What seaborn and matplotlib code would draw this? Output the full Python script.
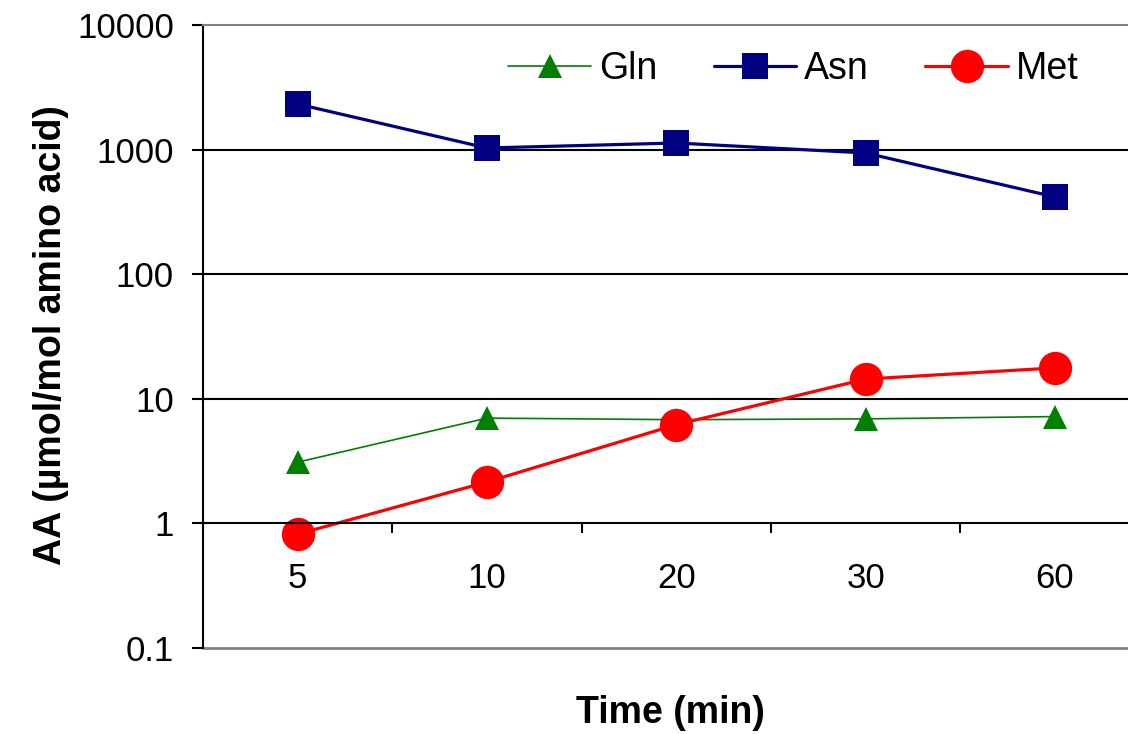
import pandas as pd
import numpy as np
import matplotlib.pyplot as plt
import seaborn as sns
from matplotlib.ticker import FixedLocator, NullFormatter

sns.set_style("white")
plt.rcParams["font.family"] = ["Liberation Sans", "DejaVu Sans"]
plt.rcParams["text.color"] = "black"
plt.rcParams["axes.labelcolor"] = "black"
plt.rcParams["xtick.color"] = "black"
plt.rcParams["ytick.color"] = "black"

times = ["5", "10", "20", "30", "60"]
gln = [3.1, 7.0, 6.8, 6.9, 7.2]
asn = [2320, 1030, 1130, 940, 417]
met = [0.82, 2.15, 6.2, 14.4, 17.7]

df = pd.DataFrame({"Time": times, "Gln": gln, "Asn": asn, "Met": met})

fig = plt.figure(figsize=(11.28, 7.34), dpi=100)
ax = fig.add_axes([203 / 1128, 1 - 648 / 734, 946.5 / 1128, 623 / 734])

sns.lineplot(data=df, x="Time", y="Gln", ax=ax, color="#008000", marker="^",
             markersize=17, linewidth=1.2, markeredgewidth=0, label="Gln", sort=False)
sns.lineplot(data=df, x="Time", y="Asn", ax=ax, color="#000080", marker="s",
             markersize=19, linewidth=2.3, markeredgewidth=0, label="Asn", sort=False)
sns.lineplot(data=df, x="Time", y="Met", ax=ax, color="#FF0000", marker="o",
             markersize=24, linewidth=2.3, markeredgewidth=0, label="Met", sort=False)

ax.set_yscale("log")
ax.set_ylim(0.1, 10000)
ax.set_xlim(-0.5, 4.5)
ax.set_yticks([0.1, 1, 10, 100, 1000, 10000])
ax.set_yticklabels(["0.1", "1", "10", "100", "1000", "10000"])
ax.yaxis.set_minor_locator(FixedLocator([]))
for v in [10, 100, 1000]:
    ax.axhline(v, color="black", linewidth=1.5, zorder=0)

# x axis crosses at y = 1
ax.spines["bottom"].set_position(("data", 1))
ax.spines["bottom"].set_linewidth(1.5)
ax.spines["bottom"].set_color("black")
ax.spines["left"].set_linewidth(1.5)
ax.spines["left"].set_color("black")
ax.spines["right"].set_visible(False)
ax.spines["top"].set_color("#808080")
ax.spines["top"].set_linewidth(1.5)
ax.axhline(0.1, color="#808080", linewidth=2, clip_on=False)

ax.set_xticks(range(len(times)))
ax.set_xticklabels(times)
ax.xaxis.set_minor_locator(FixedLocator(np.arange(0.5, 4.5, 1)))
ax.xaxis.set_minor_formatter(NullFormatter())
ax.tick_params(axis="x", which="major", length=0, pad=28, labelsize=25)
ax.tick_params(axis="x", which="minor", length=7, width=1.5, direction="out", bottom=True)
ax.tick_params(axis="y", which="major", length=8, width=1.5, direction="out",
               left=True, labelsize=25, pad=13)

ax.set_xlabel("Time (min)", fontsize=27, fontweight="bold")
ax.xaxis.label.set_va("center")
ax.xaxis.set_label_coords((670 - 203) / 946.5, -(713 - 648) / 623)
ax.set_ylabel("AA (µmol/mol amino acid)", fontsize=27, fontweight="bold")
ax.yaxis.label.set_va("center")
ax.yaxis.set_label_coords((51 - 203) / 946.5, (648 - 335) / 623)

ax.legend(loc="upper left", bbox_to_anchor=(279 / 946.5, 1.0), ncol=3, frameon=False,
          fontsize=27, handlelength=2.2, columnspacing=1.5, handletextpad=0.22,
          borderaxespad=0.3)

plt.savefig("out.png", dpi=100)
